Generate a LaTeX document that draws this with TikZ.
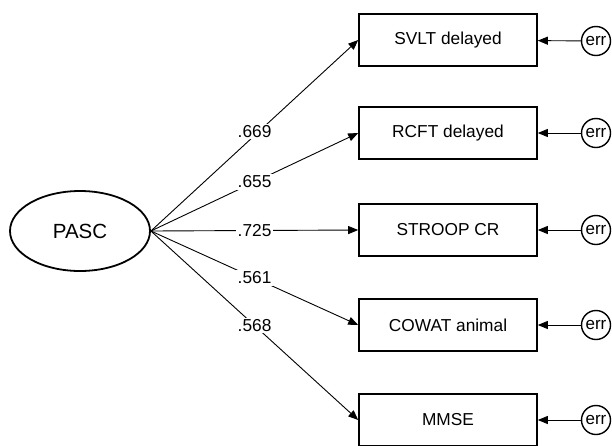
\documentclass[tikz,border=0pt]{standalone}
\usepackage{fontspec}
\setmainfont{Liberation Sans}
\usetikzlibrary{arrows.meta,shapes.geometric}
\begin{document}
\begin{tikzpicture}[x=1pt,y=-1pt,
  obs/.style={draw, line width=1.6pt, minimum width=178pt, minimum height=52pt, inner sep=0pt, font=\fontsize{17.3}{19}\selectfont},
  lat/.style={draw, ellipse, line width=1.8pt, minimum width=140pt, minimum height=80pt, inner sep=0pt, font=\fontsize{20.5}{23}\selectfont},
  errc/.style={draw, circle, line width=1.4pt, minimum size=29pt, inner sep=0pt, font=\fontsize{17}{19}\selectfont},
  load/.style={line width=0.9pt, -{Triangle[length=10pt,width=8pt]}},
  coef/.style={fill=white, inner sep=1.5pt, font=\fontsize{17.3}{19}\selectfont}
]
\useasboundingbox (0,0) rectangle (612,445);
\clip (0,0) rectangle (612,445);
\fill[white] (0,0) rectangle (612,445);

\node[lat] (pasc) at (80,231) {PASC};

\node[obs] (svlt)   at (448,40)  {SVLT delayed};
\node[obs] (rcft)   at (448,133) {RCFT delayed};
\node[obs] (stroop) at (448,230) {STROOP CR};
\node[obs] (cowat)  at (448,325) {COWAT animal};
\node[obs] (mmse)   at (448,420) {MMSE};

\node[errc] (e1) at (596,41)  {err};
\node[errc] (e2) at (596,133) {err};
\node[errc] (e3) at (596,230) {err};
\node[errc] (e4) at (596,325) {err};
\node[errc] (e5) at (596,420) {err};

\draw[load] (pasc.east) -- node[coef, pos=0.5, yshift=4pt] {.669} (svlt.west);
\draw[load] (pasc.east) -- node[coef, pos=0.5] {.655} (rcft.west);
\draw[load] (pasc.east) -- node[coef, pos=0.5] {.725} (stroop.west);
\draw[load] (pasc.east) -- node[coef, pos=0.5] {.561} (cowat.west);
\draw[load] (pasc.east) -- node[coef, pos=0.5] {.568} (mmse.west);

\draw[load] (e1) -- (svlt);
\draw[load] (e2) -- (rcft);
\draw[load] (e3) -- (stroop);
\draw[load] (e4) -- (cowat);
\draw[load] (e5) -- (mmse);
\end{tikzpicture}
\end{document}
